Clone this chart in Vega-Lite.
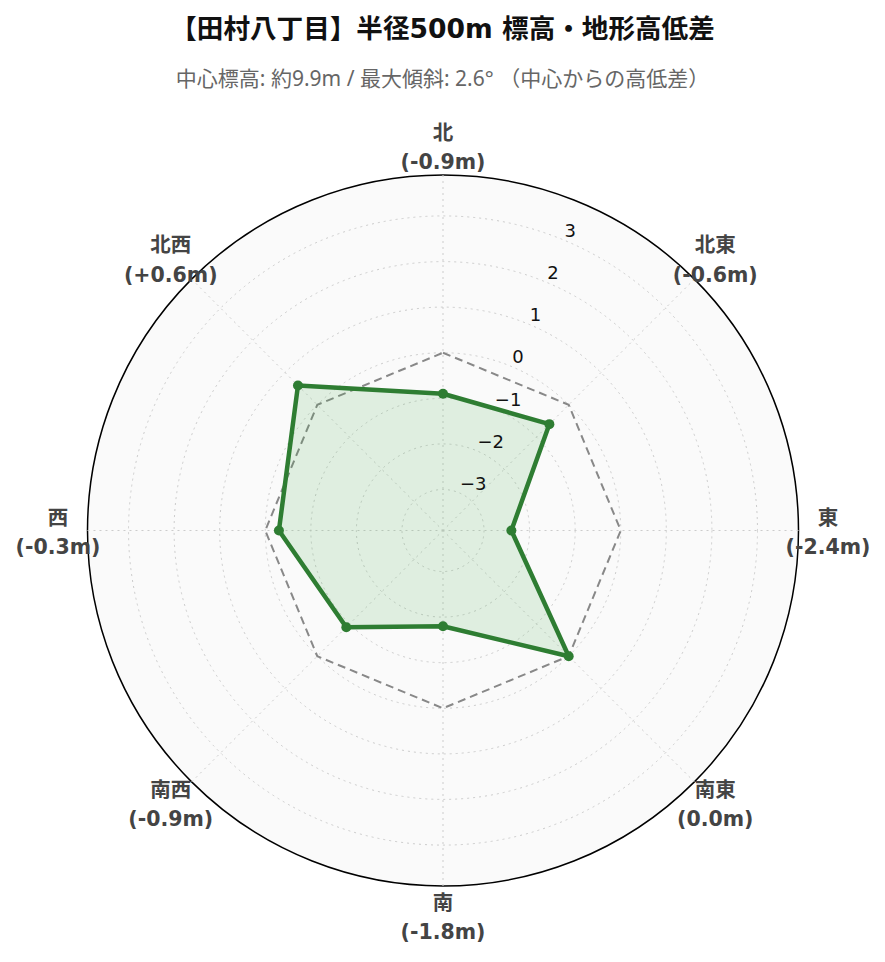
{
  "$schema": "https://vega.github.io/schema/vega-lite/v6.json",
  "description": "Radar chart of terrain height difference around the centre, 500 m radius",
  "width": 885,
  "height": 852,
  "autosize": "none",
  "padding": {"top": 110, "left": 0, "right": 0, "bottom": 0},
  "background": "white",
  "title": {
    "text": "【田村八丁目】半径500m 標高・地形高低差",
    "subtitle": "中心標高: 約9.9m / 最大傾斜: 2.6° （中心からの高低差）",
    "anchor": "middle",
    "frame": "group",
    "font": "DejaVu Sans, Noto Sans CJK JP",
    "fontSize": 26.6,
    "fontWeight": "bold",
    "color": "#111111",
    "subtitleFont": "Noto Sans, Noto Sans CJK JP",
    "subtitleFontSize": 21,
    "subtitleColor": "#666666",
    "subtitlePadding": 25.5,
    "offset": 20
  },
  "config": {"view": {"stroke": null}},
  "datasets": {
    "dirs": [
      {"dir": "北", "angle": 0, "delta": -0.9},
      {"dir": "北東", "angle": 45, "delta": -0.6},
      {"dir": "東", "angle": 90, "delta": -2.4},
      {"dir": "南東", "angle": 135, "delta": 0.0},
      {"dir": "南", "angle": 180, "delta": -1.8},
      {"dir": "南西", "angle": 225, "delta": -0.9},
      {"dir": "西", "angle": 270, "delta": -0.3},
      {"dir": "北西", "angle": 315, "delta": 0.6}
    ],
    "levels": [
      {"level": -3}, {"level": -2}, {"level": -1}, {"level": 0},
      {"level": 1}, {"level": 2}, {"level": 3}
    ],
    "outer": [{"level": 3.9}]
  },
  "layer": [
    {
      "data": {"name": "outer"},
      "transform": [{"calculate": "datum.level + 3.9", "as": "rr"}],
      "mark": {"type": "point", "shape": "circle", "filled": true, "fill": "#fafafa", "stroke": "#000000", "strokeWidth": 1.5, "opacity": 1},
      "encoding": {
        "x": {"datum": 0, "type": "quantitative", "scale": {"domain": [-9.719, 9.697], "nice": false, "zero": false}, "axis": null},
        "y": {"datum": 0, "type": "quantitative", "scale": {"domain": [-9.467, 9.226], "nice": false, "zero": false}, "axis": null},
        "size": {"field": "rr", "type": "quantitative", "scale": {"type": "pow", "exponent": 2, "domain": [0, 7.8], "range": [0, 505521]}, "legend": null}
      }
    },
    {
      "data": {"name": "levels"},
      "transform": [{"calculate": "datum.level + 3.9", "as": "rr"}],
      "mark": {"type": "point", "shape": "circle", "filled": false, "stroke": "#cccccc", "strokeWidth": 1, "strokeDash": [2, 4], "opacity": 1},
      "encoding": {
        "x": {"datum": 0, "type": "quantitative", "scale": {"domain": [-9.719, 9.697], "nice": false, "zero": false}, "axis": null},
        "y": {"datum": 0, "type": "quantitative", "scale": {"domain": [-9.467, 9.226], "nice": false, "zero": false}, "axis": null},
        "size": {"field": "rr", "type": "quantitative", "scale": {"type": "pow", "exponent": 2, "domain": [0, 7.8], "range": [0, 505521]}, "legend": null}
      }
    },
    {
      "data": {"name": "dirs"},
      "transform": [
        {"calculate": "datum.angle * PI / 180", "as": "rad"},
        {"calculate": "7.8 * sin(datum.rad)", "as": "ex"},
        {"calculate": "7.8 * cos(datum.rad)", "as": "ey"}
      ],
      "mark": {"type": "rule", "stroke": "#cccccc", "strokeWidth": 1, "strokeDash": [2, 4]},
      "encoding": {
        "x": {"field": "ex", "type": "quantitative", "scale": {"domain": [-9.719, 9.697], "nice": false, "zero": false}, "axis": null},
        "y": {"field": "ey", "type": "quantitative", "scale": {"domain": [-9.467, 9.226], "nice": false, "zero": false}, "axis": null},
        "x2": {"datum": 0},
        "y2": {"datum": 0}
      }
    },
    {
      "data": {"name": "dirs"},
      "transform": [
        {"calculate": "datum.angle * PI / 180", "as": "rad"},
        {"calculate": "3.9 * sin(datum.rad)", "as": "zx"},
        {"calculate": "3.9 * cos(datum.rad)", "as": "zy"}
      ],
      "mark": {"type": "line", "interpolate": "linear-closed", "stroke": "#888888", "strokeWidth": 2, "strokeDash": [8, 5]},
      "encoding": {
        "x": {"field": "zx", "type": "quantitative", "scale": {"domain": [-9.719, 9.697], "nice": false, "zero": false}, "axis": null},
        "y": {"field": "zy", "type": "quantitative", "scale": {"domain": [-9.467, 9.226], "nice": false, "zero": false}, "axis": null},
        "order": {"field": "angle", "type": "quantitative"}
      }
    },
    {
      "data": {"name": "dirs"},
      "transform": [
        {"calculate": "datum.angle * PI / 180", "as": "rad"},
        {"calculate": "(datum.delta + 3.9) * sin(datum.rad)", "as": "px"},
        {"calculate": "(datum.delta + 3.9) * cos(datum.rad)", "as": "py"}
      ],
      "mark": {"type": "line", "interpolate": "linear-closed", "stroke": "#2e7d32", "strokeWidth": 4.5, "strokeJoin": "round", "fill": "#4caf50", "fillOpacity": 0.15},
      "encoding": {
        "x": {"field": "px", "type": "quantitative", "scale": {"domain": [-9.719, 9.697], "nice": false, "zero": false}, "axis": null},
        "y": {"field": "py", "type": "quantitative", "scale": {"domain": [-9.467, 9.226], "nice": false, "zero": false}, "axis": null},
        "order": {"field": "angle", "type": "quantitative"}
      }
    },
    {
      "data": {"name": "dirs"},
      "transform": [
        {"calculate": "datum.angle * PI / 180", "as": "rad"},
        {"calculate": "(datum.delta + 3.9) * sin(datum.rad)", "as": "px"},
        {"calculate": "(datum.delta + 3.9) * cos(datum.rad)", "as": "py"}
      ],
      "mark": {"type": "point", "filled": true, "shape": "circle", "size": 100, "color": "#2e7d32", "opacity": 1},
      "encoding": {
        "x": {"field": "px", "type": "quantitative", "scale": {"domain": [-9.719, 9.697], "nice": false, "zero": false}, "axis": null},
        "y": {"field": "py", "type": "quantitative", "scale": {"domain": [-9.467, 9.226], "nice": false, "zero": false}, "axis": null}
      }
    },
    {
      "data": {"name": "levels"},
      "transform": [
        {"calculate": "(datum.level + 3.9 + 0.187) * sin(PI / 8)", "as": "tx"},
        {"calculate": "(datum.level + 3.9 + 0.187) * cos(PI / 8)", "as": "ty"}
      ],
      "mark": {"type": "text", "align": "left", "baseline": "middle", "dx": -2, "font": "DejaVu Sans", "fontSize": 18, "color": "#111111"},
      "encoding": {
        "x": {"field": "tx", "type": "quantitative", "scale": {"domain": [-9.719, 9.697], "nice": false, "zero": false}, "axis": null},
        "y": {"field": "ty", "type": "quantitative", "scale": {"domain": [-9.467, 9.226], "nice": false, "zero": false}, "axis": null},
        "text": {"field": "level", "type": "quantitative", "format": "d"}
      }
    },
    {
      "data": {"name": "dirs"},
      "transform": [
        {"calculate": "datum.angle * PI / 180", "as": "rad"},
        {"calculate": "8.447 * sin(datum.rad)", "as": "lx"},
        {"calculate": "8.447 * cos(datum.rad)", "as": "ly"},
        {"calculate": "datum.dir + '\\n(' + (datum.delta > 0 ? '+' : '') + replace(format(datum.delta, '.1f'), '−', '-') + 'm)'", "as": "label"}
      ],
      "mark": {"type": "text", "align": "center", "baseline": "middle", "lineBreak": "\n", "lineHeight": 29.5, "dy": -12, "font": "DejaVu Sans, Noto Sans CJK JP", "fontSize": 20.5, "fontWeight": "bold", "color": "#444444"},
      "encoding": {
        "x": {"field": "lx", "type": "quantitative", "scale": {"domain": [-9.719, 9.697], "nice": false, "zero": false}, "axis": null},
        "y": {"field": "ly", "type": "quantitative", "scale": {"domain": [-9.467, 9.226], "nice": false, "zero": false}, "axis": null},
        "text": {"field": "label"}
      }
    }
  ]
}
